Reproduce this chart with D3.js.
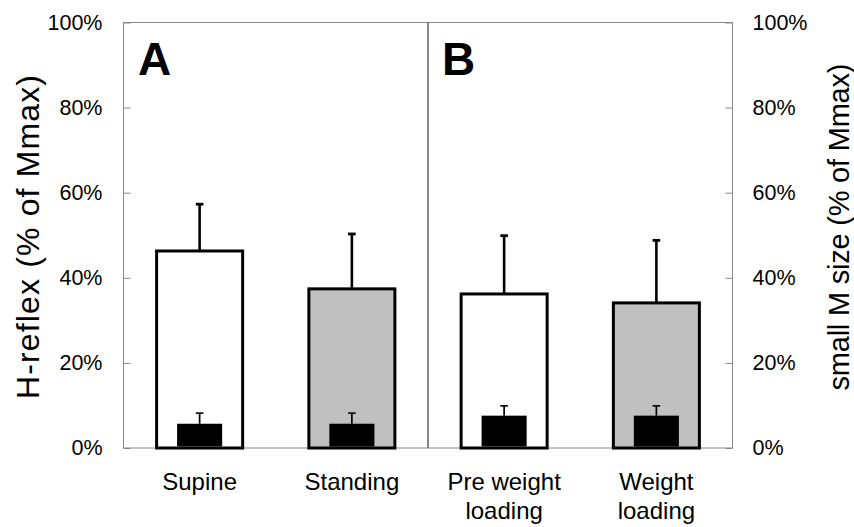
<!DOCTYPE html>
<html>
<head>
<meta charset="utf-8">
<script src="https://cdn.jsdelivr.net/npm/d3@7"></script>
<style>
  html, body { margin: 0; padding: 0; background: #fff; }
  svg { display: block; font-family: Arial, "Liberation Sans", sans-serif; }
</style>
</head>
<body>
<svg id="chart" width="854" height="527"></svg>
<script>
// Conditions (x categories); two-line labels split on "\n"
const categories = ["Supine", "Standing", "Pre weight\nloading", "Weight\nloading"];
// H-reflex amplitude (% of Mmax), mean and SD
const hReflex    = [46.3, 37.4, 36.2, 34.1];
const hReflexErr = [11.0, 12.9, 13.7, 14.7];
// small M-wave size (% of Mmax), mean and SD
const smallM     = [5.7, 5.7, 7.6, 7.6];
const smallMErr  = [2.5, 2.5, 2.3, 2.3];
// bar fill per condition
const barFills   = ["#ffffff", "#c0c0c0", "#ffffff", "#c0c0c0"];
// y-axis ticks (percent)
const yTicks     = [0, 20, 40, 60, 80, 100];
// panel letters
const panels     = ["A", "B"];

const svg = d3.select("#chart");
const plotLeft = 123.5, plotRight = 732.5, plotTop = 22.5, plotBottom = 448;

const x = d3.scaleBand()
  .domain(categories)
  .range([plotLeft, plotRight])
  .paddingInner(0.435)
  .paddingOuter(0.2175);

const y = d3.scaleLinear().domain([0, 100]).range([plotBottom, plotTop]);

const fmt = d => d + "%";

// left axis (H-reflex)
const gL = svg.append("g")
  .attr("transform", `translate(${plotLeft},0)`)
  .call(d3.axisLeft(y).tickValues(yTicks).tickFormat(fmt).tickSize(-7).tickPadding(21));
// right axis (small M)
const gR = svg.append("g")
  .attr("transform", `translate(${plotRight},0)`)
  .call(d3.axisRight(y).tickValues(yTicks).tickFormat(fmt).tickSize(-7).tickPadding(20));

[gL, gR].forEach(g => {
  g.select(".domain").remove();
  g.selectAll(".tick line").attr("stroke", "#888").attr("stroke-width", 1);
  g.selectAll(".tick text")
    .attr("fill", "#000")
    .style("font-size", "21.5px")
    .style("font-family", "Arial, 'Liberation Sans', sans-serif");
});

// plot frame
svg.append("rect")
  .attr("x", plotLeft).attr("y", plotTop)
  .attr("width", plotRight - plotLeft).attr("height", plotBottom - plotTop)
  .attr("fill", "none").attr("stroke", "#888").attr("stroke-width", 1);

// panel divider between A and B
const midX = (x(categories[1]) + x.bandwidth() + x(categories[2])) / 2;
svg.append("line")
  .attr("x1", midX).attr("x2", midX)
  .attr("y1", plotTop).attr("y2", plotBottom)
  .attr("stroke", "#6a6a6a").attr("stroke-width", 1.6);

// panel letters
svg.selectAll("text.panel")
  .data(panels)
  .join("text")
  .attr("class", "panel")
  .attr("x", (d, i) => i === 0 ? 138 : 442)
  .attr("y", 75)
  .attr("font-weight", "bold")
  .attr("font-size", 46)
  .attr("fill", "#000")
  .text(d => d);

const idx = d3.range(categories.length);
const cx = i => x(categories[i]) + x.bandwidth() / 2;

// error bars for the H-reflex bars (upper side only)
const errG = svg.append("g");
errG.selectAll("line.stem")
  .data(idx).join("line")
  .attr("class", "stem")
  .attr("x1", cx).attr("x2", cx)
  .attr("y1", i => y(hReflex[i]))
  .attr("y2", i => y(hReflex[i] + hReflexErr[i]))
  .attr("stroke", "#000").attr("stroke-width", 2.6);
errG.selectAll("line.cap")
  .data(idx).join("line")
  .attr("class", "cap")
  .attr("x1", i => cx(i) - 3.8)
  .attr("x2", i => cx(i) + 3.8)
  .attr("y1", i => y(hReflex[i] + hReflexErr[i]))
  .attr("y2", i => y(hReflex[i] + hReflexErr[i]))
  .attr("stroke", "#000").attr("stroke-width", 2.8);

// H-reflex bars
svg.append("g").selectAll("rect")
  .data(idx).join("rect")
  .attr("x", i => x(categories[i]))
  .attr("y", i => y(hReflex[i]))
  .attr("width", x.bandwidth())
  .attr("height", i => y(0) - y(hReflex[i]))
  .attr("fill", i => barFills[i])
  .attr("stroke", "#000").attr("stroke-width", 3);

// small M bars inside
const innerW = x.step() * 0.296;
const smallG = svg.append("g");
smallG.selectAll("line.stem")
  .data(idx).join("line")
  .attr("class", "stem")
  .attr("x1", cx).attr("x2", cx)
  .attr("y1", i => y(smallM[i]))
  .attr("y2", i => y(smallM[i] + smallMErr[i]))
  .attr("stroke", "#000").attr("stroke-width", 1.7);
smallG.selectAll("line.cap")
  .data(idx).join("line")
  .attr("class", "cap")
  .attr("x1", i => cx(i) - 3.8)
  .attr("x2", i => cx(i) + 3.8)
  .attr("y1", i => y(smallM[i] + smallMErr[i]))
  .attr("y2", i => y(smallM[i] + smallMErr[i]))
  .attr("stroke", "#000").attr("stroke-width", 1.6);
smallG.selectAll("rect")
  .data(idx).join("rect")
  .attr("x", i => cx(i) - innerW / 2)
  .attr("y", i => y(smallM[i]))
  .attr("width", innerW)
  .attr("height", i => y(0) - y(smallM[i]) - 1.5)
  .attr("fill", "#000");

// category labels
const catG = svg.append("g");
catG.selectAll("text")
  .data(categories).join("text")
  .attr("x", d => x(d) + x.bandwidth() / 2)
  .attr("y", 490)
  .attr("text-anchor", "middle")
  .attr("font-size", 24)
  .attr("fill", "#000")
  .each(function(d) {
    const lines = d.split("\n");
    d3.select(this).selectAll("tspan")
      .data(lines).join("tspan")
      .attr("x", x(d) + x.bandwidth() / 2)
      .attr("dy", (l, j) => j === 0 ? 0 : 29)
      .text(l => l);
  });

// axis titles
svg.append("text")
  .attr("transform", "translate(39,237) rotate(-90)")
  .attr("text-anchor", "middle")
  .attr("font-size", 32)
  .attr("textLength", 324)
  .attr("lengthAdjust", "spacing")
  .attr("fill", "#000")
  .text("H-reflex (% of Mmax)");

svg.append("text")
  .attr("transform", "translate(848.5,227) rotate(-90)")
  .attr("text-anchor", "middle")
  .attr("font-size", 29)
  .attr("textLength", 327)
  .attr("lengthAdjust", "spacing")
  .attr("fill", "#000")
  .text("small M size (% of Mmax)");
</script>
</body>
</html>
